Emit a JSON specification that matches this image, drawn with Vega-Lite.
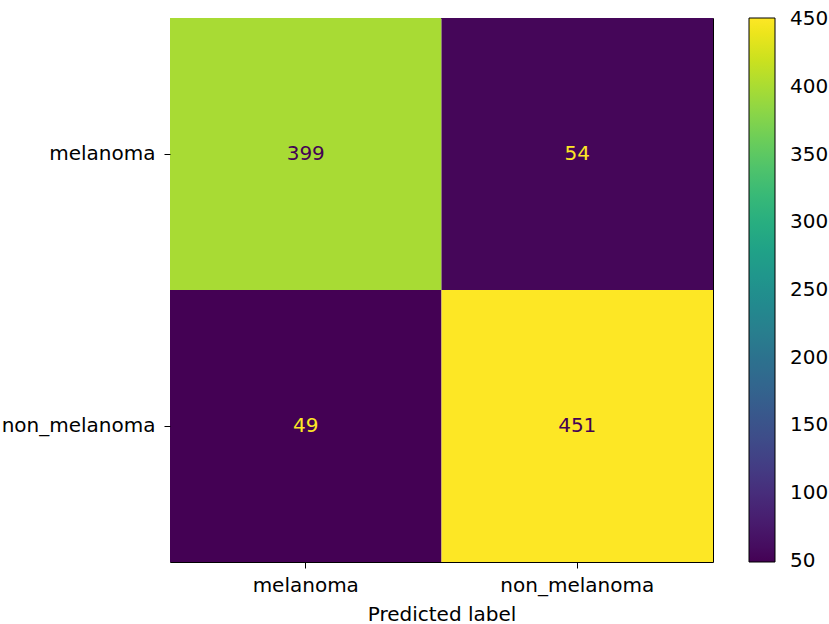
{
  "$schema": "https://vega.github.io/schema/vega-lite/v6.json",
  "autosize": "none",
  "padding": {"left": 170, "top": 18, "right": 116, "bottom": 62},
  "width": 543,
  "height": 544,
  "background": "white",
  "data": {
    "values": [
      {"true_label": "melanoma", "predicted": "melanoma", "count": 399},
      {"true_label": "melanoma", "predicted": "non_melanoma", "count": 54},
      {"true_label": "non_melanoma", "predicted": "melanoma", "count": 49},
      {"true_label": "non_melanoma", "predicted": "non_melanoma", "count": 451}
    ]
  },
  "encoding": {
    "x": {
      "field": "predicted", "type": "nominal",
      "sort": ["melanoma", "non_melanoma"],
      "scale": {"paddingInner": 0, "paddingOuter": 0},
      "axis": {
        "title": "Predicted label", "labelAngle": 0, "domain": false,
        "tickColor": "black", "tickSize": 6, "labelPadding": 7, "titlePadding": 9
      }
    },
    "y": {
      "field": "true_label", "type": "nominal",
      "sort": ["melanoma", "non_melanoma"],
      "scale": {"paddingInner": 0, "paddingOuter": 0},
      "axis": {
        "title": null, "domain": false,
        "tickColor": "black", "tickSize": 6, "labelPadding": 9, "labelLimit": 0
      }
    }
  },
  "layer": [
    {
      "mark": {"type": "rect"},
      "encoding": {
        "color": {
          "field": "count", "type": "quantitative",
          "scale": {"scheme": "viridis", "domain": [49, 451], "nice": false, "zero": false},
          "legend": {
            "title": null,
            "orient": "none",
            "legendX": 579,
            "legendY": 0,
            "direction": "vertical",
            "gradientLength": 544,
            "gradientThickness": 26,
            "gradientStrokeColor": "black",
            "gradientStrokeWidth": 1,
            "values": [50, 100, 150, 200, 250, 300, 350, 400, 450],
            "labelOverlap": false,
            "labelOffset": 15,
            "labelFont": "DejaVu Sans",
            "labelFontSize": 20,
            "labelColor": "black"
          }
        }
      }
    },
    {
      "mark": {"type": "text", "font": "DejaVu Sans", "fontSize": 20},
      "encoding": {
        "text": {"field": "count", "type": "quantitative"},
        "color": {
          "condition": {"test": "datum.count < 250", "value": "#fde725"},
          "value": "#440154"
        }
      }
    }
  ],
  "config": {
    "view": {"stroke": "black", "strokeWidth": 1},
    "axis": {
      "labelFont": "DejaVu Sans", "labelFontSize": 20, "labelColor": "black",
      "titleFont": "DejaVu Sans", "titleFontSize": 20, "titleFontWeight": "normal", "titleColor": "black",
      "grid": false
    }
  }
}
